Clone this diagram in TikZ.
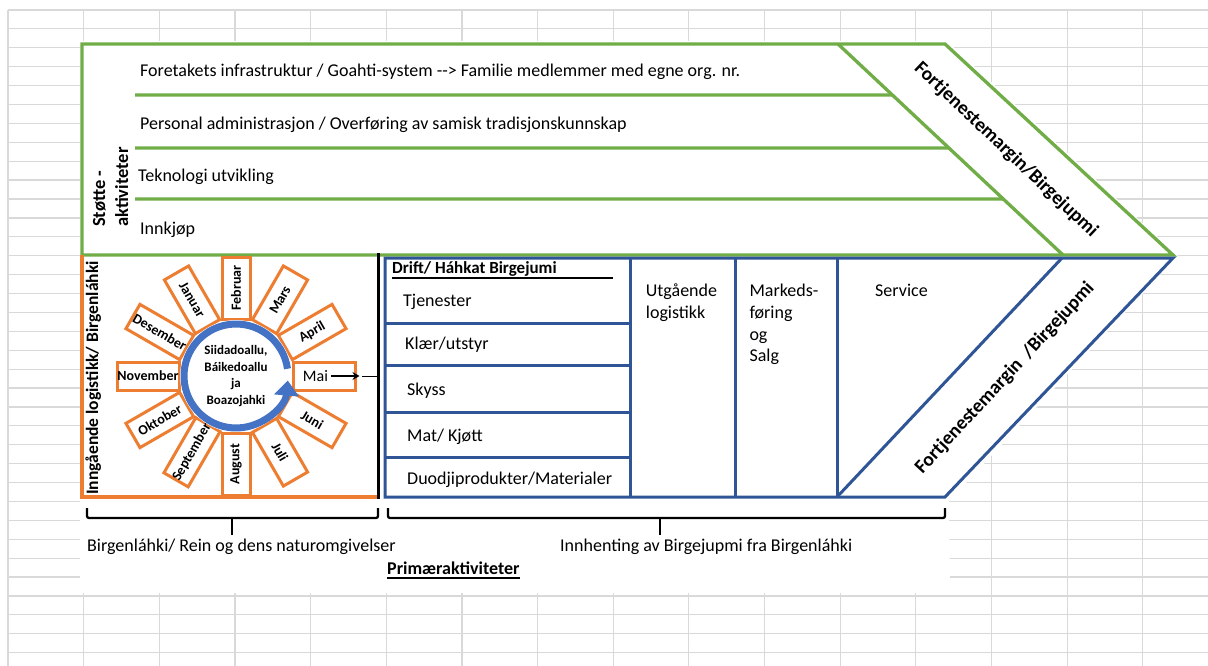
\documentclass[tikz,border=0pt]{standalone}
\usepackage{fontspec}
\setmainfont{Carlito}
\usetikzlibrary{arrows.meta,calc}

\definecolor{xlgreen}{HTML}{70AD47}
\definecolor{xlorange}{HTML}{ED7D31}
\definecolor{xlblue}{HTML}{2F5597}
\definecolor{ringblue}{HTML}{4472C4}
\definecolor{gridgray}{HTML}{D9D9D9}

\begin{document}
\begin{tikzpicture}[x=1pt,y=1pt,
  gridline/.style={gridgray, line width=1.2pt},
  greenline/.style={xlgreen, line width=3.3pt},
  blueline/.style={xlblue, line width=3pt},
  orangeline/.style={xlorange, line width=3.3pt},
  txt/.style={inner sep=0pt, anchor=base west, font=\fontsize{18}{21.7}\selectfont},
  vtxt/.style={txt, rotate=90},
  slanttxt/.style={inner sep=0pt, font=\bfseries\fontsize{19.5}{22}\selectfont},
  monthbox/.style={draw=xlorange, line width=3pt, fill=white, minimum width=62pt,
    minimum height=28pt, inner sep=0pt, font=\bfseries\fontsize{14}{16}\selectfont},
  bracket/.style={line width=2.3pt, rounded corners=2pt},
]
\useasboundingbox (0,0) rectangle (1208,-666);
\fill[white] (0,0) rectangle (1208,-666);

% spreadsheet grid behind the chart
\foreach \i in {0,...,15}
  \draw[gridline] ({8+75.65*\i},-10) -- ({8+75.65*\i},-666);
\foreach \j in {0,...,34}
  \draw[gridline] (8,{-10-18.9*\j}) -- (1208,{-10-18.9*\j});

% white chart area
\fill[white] (80,-41) -- (947,-41) -- (1178,-256) -- (949,-501) -- (950,-593) -- (80,-593) -- cycle;

% ---------- support activities (green arrow) ----------
\coordinate (gTL) at (82,-44);
\coordinate (gTR) at (945,-44);
\coordinate (gTip) at (1173,-255);
\coordinate (gBL) at (82,-255);
\coordinate (gIn1) at (838,-44);
\coordinate (gIn2) at (1063,-255);
\draw[greenline, line join=miter] (gBL) -- (gTL) -- (gTR) -- (gTip) -- cycle;
\draw[greenline] (gIn1) -- (gIn2);
\draw[greenline] (135,-95) -- ($(gIn1)!0.2417!(gIn2)$);
\draw[greenline] (135,-148) -- ($(gIn1)!0.4929!(gIn2)$);
\draw[greenline] (135,-199) -- ($(gIn1)!0.7346!(gIn2)$);

\node[txt] (s1) at (140,-76.7) {Foretakets infrastruktur / Goahti-system {-}{-}> Familie medlemmer med egne org. nr.};
\node[txt] (s2) at (140,-130) {Personal administrasjon / Overføring av samisk tradisjonskunnskap};
\node[txt] (s3) at (138,-181.7) {Teknologi utvikling};
\node[txt] (s4) at (140,-234) {Innkjøp};
\node[vtxt, font=\bfseries\fontsize{18.5}{22}\selectfont] (st1) at (105,-227) {Støtte -};
\node[vtxt, font=\bfseries\fontsize{18.5}{22}\selectfont] (st2) at (128,-227) {aktiviteter};
\node[slanttxt, rotate=-43.4] (mtop) at (1006,-150) {Fortjenestemargin/Birgejupmi};

% ---------- inbound logistics (orange) ----------
\draw[orangeline] (82,-255) -- (82,-497) -- (378,-497);
\coordinate (bt) at (378,-253);
\coordinate (bb) at (378,-499);
\draw[line width=3pt] (bt) -- (bb);
\node[vtxt, font=\bfseries\fontsize{17.5}{21}\selectfont] (inn) at (98,-495) {Inngående logistikk/ Birgenláhki};

% month wheel
\coordinate (wc) at (236,-376);
\foreach \ma/\mr/\mn/\mk in {90/90/Februar/feb, 60/60/Mars/mar, 30/30/April/apr,
    330/-30/Juni/jun, 300/-60/Juli/jul, 270/90/August/aug, 240/60/September/sep,
    210/30/Oktober/okt, 180/0/November/nov, 150/-30/Desember/des, 120/-60/Januar/jan}
  \node[monthbox, rotate=\mr] (\mk) at ($(wc)+({88*cos(\ma)},{88*sin(\ma)})$) {\mn};
\node[monthbox] (mai) at ($(wc)+(88,0)$) {};
\node[inner sep=0pt, font=\fontsize{16}{18}\selectfont] (maitxt) at (315.5,-376) {Mai};
\draw[line width=2pt, -{Stealth[length=7pt,width=8pt]}] ([xshift=3pt]maitxt.east) -- ([xshift=3pt]mai.east);
\draw[line width=1pt] ([xshift=5pt]mai.east) -- (mai.east -| bt);

\fill[white] (wc) circle (56);
\draw[ringblue, line width=7pt, -{Triangle[length=15pt,width=24pt]}]
  ([shift={(8:52)}]wc) arc[start angle=8, end angle=355, radius=52];
\node[align=center, inner sep=0pt, font=\bfseries\fontsize{13}{16.5}\selectfont] (hub) at (236,-376)
  {Siidadoallu,\\Báikedoallu\\ja\\Boazojahki};

% ---------- primary activities (blue arrow) ----------
\coordinate (bTL) at (385,-258);
\coordinate (bTip) at (1173,-258);
\coordinate (bBR) at (945,-497);
\coordinate (bBL) at (385,-497);
\draw[blueline, line join=miter] (bTL) -- (bTip) -- (bBR) -- (bBL) -- cycle;
\draw[blueline] (837,-497) -- (1062,-258);
\draw[blueline] (630,-258) -- (630,-497);
\draw[blueline] (735,-258) -- (735,-497);
\draw[blueline] (837,-258) -- (837,-497);
\foreach \yy in {323,365,412,457}
  \draw[blueline] (385,-\yy) -- (630,-\yy);

\node[txt, font=\bfseries\fontsize{17}{20}\selectfont] (drift) at (392,-273.3) {Drift/ Háhkat Birgejumi};
\draw[line width=2.4pt] ([yshift=-4.7pt]drift.base west) -- ++(221,0);
\node[txt] (r1) at (403,-306.7) {Tjenester};
\node[txt] (r2) at (405,-349.3) {Klær/utstyr};
\node[txt] (r3) at (407,-395) {Skyss};
\node[txt] (r4) at (407,-441) {Mat/ Kjøtt};
\node[txt] (r5) at (407,-484.3) {Duodjiprodukter/Materialer};
% multi-line texts: the base anchor sits on the last line
\node[txt, align=left] (utg) at (645.7,-318.4) {Utgående\\logistikk};
\node[txt, align=left] (mark) at (749.3,-361.8) {Markeds-\\føring\\og\\Salg};
\node[txt] (serv) at (875,-296.7) {Service};
\node[slanttxt, rotate=47.2] (mbot) at (1005,-378) {Fortjenestemargin~ /Birgejupmi};

% ---------- brackets and captions ----------
\draw[bracket] (87,-508) -- (87,-518) -- (378,-518) -- (378,-508);
\draw[bracket] (232,-518) -- (232,-535);
\draw[bracket] (388,-508) -- (388,-518) -- (945,-518) -- (945,-508);
\draw[bracket] (660,-518) -- (660,-535);
\node[txt] (cap1) at (87,-551.7) {Birgenláhki/ Rein og dens naturomgivelser};
\node[txt] (cap2) at (560,-551.7) {Innhenting av Birgejupmi fra Birgenláhki};
\node[txt, font=\bfseries\fontsize{18}{21}\selectfont] (prim) at (387,-574.5) {Primæraktiviteter};
\draw[line width=1.3pt] ([yshift=-3.5pt]prim.base west) -- ([yshift=-3.5pt]prim.base east);
\end{tikzpicture}
\end{document}
